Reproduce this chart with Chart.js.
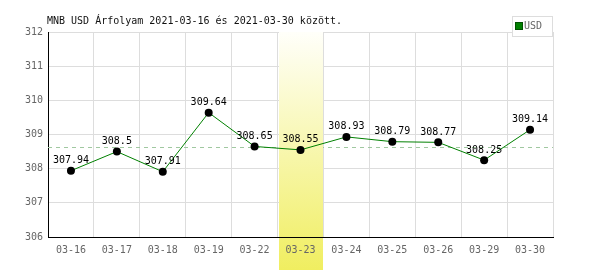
<!DOCTYPE html>
<html>
<head>
<meta charset="utf-8">
<script src="https://cdn.jsdelivr.net/npm/chart.js@4"></script>
<style>
  html, body { margin: 0; padding: 0; background: #fff; }
  #wrap { width: 600px; height: 270px; }
</style>
</head>
<body>
<div id="wrap"><canvas id="myChart" width="600" height="270"></canvas></div>
<script>
// data
let dates = ['03-16', '03-17', '03-18', '03-19', '03-22', '03-23', '03-24', '03-25', '03-26', '03-29', '03-30'];
let usdRates = [307.94, 308.5, 307.91, 309.64, 308.65, 308.55, 308.93, 308.79, 308.77, 308.25, 309.14];
let rateLabels = ['307.94', '308.5', '307.91', '309.64', '308.65', '308.55', '308.93', '308.79', '308.77', '308.25', '309.14'];
let yTicks = [306, 307, 308, 309, 310, 311, 312];
let averageRate = 308.64;
let highlightDay = '03-23';
let titleText = 'MNB USD Árfolyam 2021-03-16 és 2021-03-30 között.';
let legendText = 'USD';

const monoFont = '"DejaVu Sans Mono", monospace';

// title + legend box
let headerPlugin = {
    id: 'header',
    afterDraw(chart) {
        const ctx = chart.ctx;
        ctx.save();
        ctx.font = '10px ' + monoFont;
        ctx.fillStyle = '#111';
        ctx.textBaseline = 'middle';
        ctx.textAlign = 'left';
        ctx.fillText(titleText, 47, 21);

        // legend box
        ctx.fillStyle = '#fff';
        ctx.fillRect(512, 16, 40, 20);
        ctx.strokeStyle = '#ddd';
        ctx.lineWidth = 1;
        ctx.strokeRect(512.5, 16.5, 40, 20);
        ctx.fillStyle = '#008000';
        ctx.fillRect(516, 23, 6, 6);
        ctx.strokeStyle = '#005000';
        ctx.strokeRect(515.5, 22.5, 7, 7);
        ctx.fillStyle = '#666';
        ctx.fillText(legendText, 524, 26.5);
        ctx.restore();
    }
};

// average line + highlighted day band
let bandPlugin = {
    id: 'band',
    beforeDatasetsDraw(chart) {
        const ctx = chart.ctx;
        const area = chart.chartArea;
        const x = chart.scales.x;
        const y = chart.scales.y;

        // average dashed line
        const ya = Math.round(y.getPixelForValue(averageRate)) + 0.5;
        ctx.save();
        ctx.strokeStyle = '#a0c8a0';
        ctx.lineWidth = 1;
        ctx.setLineDash([4, 4]);
        ctx.beginPath();
        ctx.moveTo(area.left, ya);
        ctx.lineTo(area.right, ya);
        ctx.stroke();
        ctx.restore();

        // band
        const idx = dates.indexOf(highlightDay);
        const cx = x.getPixelForValue(idx);
        const half = (x.getPixelForValue(1) - x.getPixelForValue(0)) / 2;
        const left = Math.round(cx - half) + 1;
        const right = Math.round(cx + half);
        const grad = ctx.createLinearGradient(0, area.top, 0, chart.height);
        grad.addColorStop(0, '#fffffa');
        grad.addColorStop(1, '#f0ee60');
        ctx.save();
        ctx.fillStyle = grad;
        ctx.fillRect(left, area.top, right - left, chart.height - area.top);
        ctx.restore();
    }
};

// value labels above points
let valueLabelPlugin = {
    id: 'valueLabels',
    afterDatasetsDraw(chart) {
        const ctx = chart.ctx;
        const meta = chart.getDatasetMeta(0);
        ctx.save();
        ctx.font = '10px ' + monoFont;
        ctx.fillStyle = '#000';
        ctx.textAlign = 'center';
        ctx.textBaseline = 'bottom';
        meta.data.forEach(function (pt, i) {
            ctx.fillText(rateLabels[i], pt.x, pt.y - 5);
        });
        ctx.restore();
    }
};

let config = {
    type: 'line',
    data: {
        labels: dates,
        datasets: [{
            label: legendText,
            data: usdRates,
            borderColor: '#008000',
            borderWidth: 1,
            backgroundColor: '#000',
            pointBackgroundColor: '#000',
            pointBorderColor: '#000',
            pointRadius: 4,
            pointBorderWidth: 0,
            tension: 0,
            fill: false
        }]
    },
    options: {
        responsive: false,
        animation: false,
        layout: {
            padding: { top: 32, right: 47, left: 0, bottom: 0 }
        },
        plugins: {
            legend: { display: false },
            title: { display: false },
            tooltip: { enabled: false }
        },
        scales: {
            x: {
                offset: true,
                grid: {
                    offset: true,
                    color: '#dddddd',
                    lineWidth: 1,
                    drawTicks: false
                },
                border: { color: '#000', width: 1, z: 1 },
                ticks: {
                    z: 1,
                    color: '#666',
                    padding: 7,
                    maxRotation: 0,
                    autoSkip: false,
                    font: { family: monoFont, size: 10 }
                },
                afterFit: function (s) { s.height = 33; }
            },
            y: {
                min: 306,
                max: 312,
                afterBuildTicks: function (s) {
                    s.ticks = yTicks.map(v => ({ value: v }));
                },
                grid: {
                    color: '#dddddd',
                    lineWidth: 1,
                    drawTicks: false
                },
                border: { color: '#000', width: 1 },
                ticks: {
                    color: '#666',
                    padding: 5,
                    font: { family: monoFont, size: 10 }
                },
                afterFit: function (s) { s.width = 48; }
            }
        }
    },
    plugins: [bandPlugin, valueLabelPlugin, headerPlugin]
};

var myChart = new Chart(document.getElementById('myChart'), config);
</script>
</body>
</html>
